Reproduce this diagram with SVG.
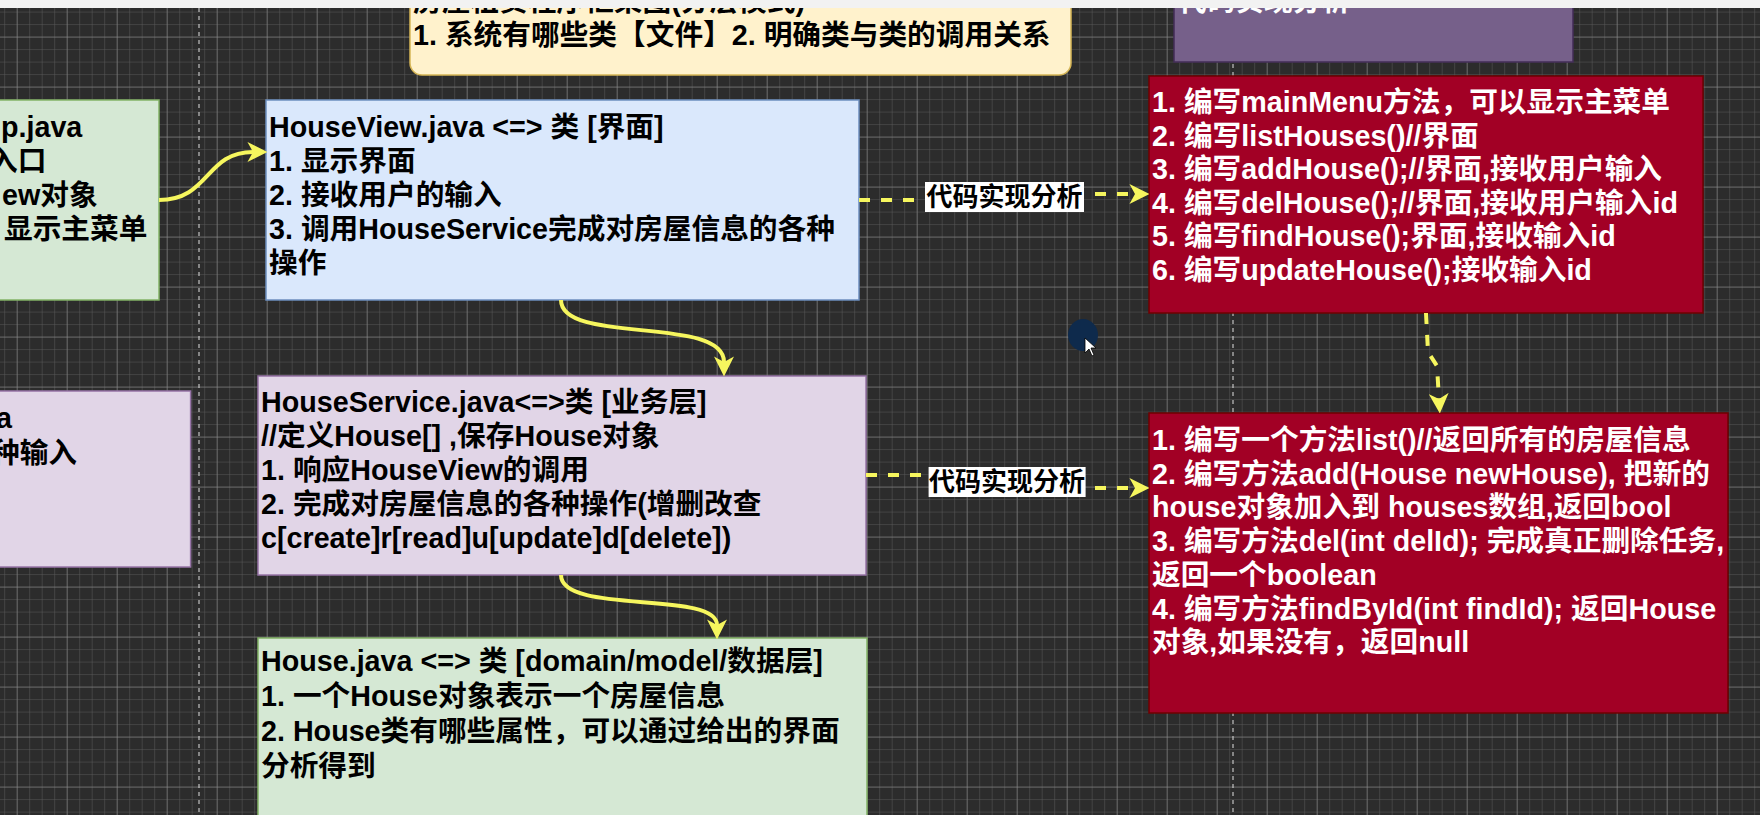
<svg xmlns="http://www.w3.org/2000/svg" width="1760" height="815" viewBox="0 0 1760 815">
<defs>
<pattern id="gmin" x="4.2" y="11.6" width="12.5" height="12.5" patternUnits="userSpaceOnUse">
<path d="M0,0 H12.5 M0,0 V12.5" stroke="#5a5a5a" stroke-width="1" fill="none"/>
</pattern>
<pattern id="gmaj" x="16.7" y="36.6" width="50" height="50" patternUnits="userSpaceOnUse">
<path d="M0,0 H50 M0,0 V50" stroke="#8e8e8e" stroke-width="1" fill="none"/>
</pattern>
<marker id="ah" markerUnits="userSpaceOnUse" markerWidth="20" markerHeight="20" viewBox="0 0 18 18" refX="5" refY="9" orient="auto">
<path d="M0,0 L18,9 L0,18 L5,9 Z" fill="#f6f65e"/>
</marker>
<style>
.t{font-family:'Liberation Sans','Noto Sans CJK SC',sans-serif;font-weight:bold;font-size:28.7px;fill:#000}
.w{fill:#fff}
.lbl{font-size:26px}
.green{fill:#d5e8d4;stroke:#82b366;stroke-width:1.5}
.blue{fill:#dae8fc;stroke:#6c8ebf;stroke-width:1.5}
.purple{fill:#e1d5e7;stroke:#9673a6;stroke-width:1.5}
.red{fill:#a20025;stroke:#6f0000;stroke-width:1.5}
.edge{fill:none;stroke:#f6f65e;stroke-width:4}
.dash{stroke-dasharray:11 11}
.vd{stroke:#e0e0e0;stroke-width:1;stroke-dasharray:4 4}
</style>
</defs>

<rect x="0" y="0" width="1760" height="815" fill="#2c2c2c"/>
<rect x="0" y="0" width="1760" height="815" fill="url(#gmin)"/>
<rect x="0" y="0" width="1760" height="815" fill="url(#gmaj)"/>
<line class="vd" x1="199" y1="0" x2="199" y2="815"/>
<line class="vd" x1="1233" y1="0" x2="1233" y2="815"/>

<g id="title-box">
<rect x="410" y="-30" width="661" height="105" rx="12" fill="#fff2cc" stroke="#d6b656" stroke-width="1.5"/>
<text class="t" x="413" y="11">房屋租赁程序框架图(分层模式)</text>
<text class="t" x="413" y="45">1. 系统有哪些类【文件】2. 明确类与类的调用关系</text>
</g>

<g id="analysis-box">
<rect x="1174" y="-30" width="399" height="92" fill="#76608a" stroke="#432d57" stroke-width="1.5"/>
<text class="t w" x="1178" y="11">代码实现分析</text>
</g>

<g id="app-box">
<rect class="green" x="-10" y="100" width="169" height="200"/>
<text class="t" x="1" y="137">p.java</text>
<text class="t" x="-11" y="171">入口</text>
<text class="t" x="2" y="205">ew对象</text>
<text class="t" x="4" y="239">显示主菜单</text>
</g>

<g id="left-purple-box">
<rect class="purple" x="-10" y="391" width="200.6" height="176"/>
<text class="t" x="-4" y="428">a</text>
<text class="t" x="-9" y="463">种输入</text>
</g>

<g id="houseview-box">
<rect class="blue" x="266" y="100" width="593" height="200"/>
<text class="t" x="269" y="137">HouseView.java &lt;=&gt; 类 [界面]</text>
<text class="t" x="269" y="171">1. 显示界面</text>
<text class="t" x="269" y="205">2. 接收用户的输入</text>
<text class="t" x="269" y="239">3. 调用HouseService完成对房屋信息的各种</text>
<text class="t" x="269" y="273">操作</text>
</g>

<g id="houseservice-box">
<rect class="purple" x="258" y="376" width="608" height="199"/>
<text class="t" x="261" y="412">HouseService.java&lt;=&gt;类 [业务层]</text>
<text class="t" x="261" y="446">//定义House[] ,保存House对象</text>
<text class="t" x="261" y="480">1. 响应HouseView的调用</text>
<text class="t" x="261" y="514">2. 完成对房屋信息的各种操作(增删改查</text>
<text class="t" x="261" y="548">c[create]r[read]u[update]d[delete])</text>
</g>

<g id="house-box">
<rect class="green" x="258" y="638" width="609" height="200"/>
<text class="t" x="261" y="671">House.java &lt;=&gt; 类 [domain/model/数据层]</text>
<text class="t" x="261" y="706">1. 一个House对象表示一个房屋信息</text>
<text class="t" x="261" y="741">2. House类有哪些属性，可以通过给出的界面</text>
<text class="t" x="261" y="776">分析得到</text>
</g>

<g id="view-methods-box">
<rect class="red" x="1149" y="76" width="554" height="237"/>
<text class="t w" x="1152" y="112">1. 编写mainMenu方法，可以显示主菜单</text>
<text class="t w" x="1152" y="145.6">2. 编写listHouses()//界面</text>
<text class="t w" x="1152" y="179.2">3. 编写addHouse();//界面,接收用户输入</text>
<text class="t w" x="1152" y="212.8">4. 编写delHouse();//界面,接收用户输入id</text>
<text class="t w" x="1152" y="246.4">5. 编写findHouse();界面,接收输入id</text>
<text class="t w" x="1152" y="280">6. 编写updateHouse();接收输入id</text>
</g>

<g id="service-methods-box">
<rect class="red" x="1149" y="413" width="579" height="300"/>
<text class="t w" x="1152" y="450">1. 编写一个方法list()//返回所有的房屋信息</text>
<text class="t w" x="1152" y="483.7">2. 编写方法add(House newHouse), 把新的</text>
<text class="t w" x="1152" y="517.4">house对象加入到 houses数组,返回bool</text>
<text class="t w" x="1152" y="551.1">3. 编写方法del(int delId); 完成真正删除任务,</text>
<text class="t w" x="1152" y="584.8">返回一个boolean</text>
<text class="t w" x="1152" y="618.5">4. 编写方法findById(int findId); 返回House</text>
<text class="t w" x="1152" y="652.2">对象,如果没有，返回null</text>
</g>

<g id="connectors">
<path class="edge" d="M159,200 C210,200 205,152 253,152" marker-end="url(#ah)"/>
<path class="edge" d="M561,300 C561,345 724,315 724,362" marker-end="url(#ah)"/>
<path class="edge" d="M561,575 C561,615 717,590 717,625" marker-end="url(#ah)"/>
<path class="edge dash" d="M859,200 H1000 V194 H1135" marker-end="url(#ah)"/>
<path class="edge dash" d="M866,475 H1000 V488 H1135" marker-end="url(#ah)"/>
<path class="edge dash" d="M1426,313 L1428,352 L1437,366 L1439,399" marker-end="url(#ah)"/>
<g id="label-1">
<rect x="925" y="182" width="159" height="30" fill="#fff"/>
<text class="t lbl" x="1004.5" y="206" text-anchor="middle">代码实现分析</text>
</g>
<g id="label-2">
<rect x="928.6" y="467" width="157" height="30" fill="#fff"/>
<text class="t lbl" x="1007" y="491" text-anchor="middle">代码实现分析</text>
</g>
</g>

<g id="cursor">
<ellipse cx="1083" cy="335" rx="15" ry="16" fill="#0e2a4c"/>
<path d="M1085,338 L1085,353 L1089,349 L1092,356 L1094,355 L1091,348 L1096,348 Z" fill="#fff" stroke="#000" stroke-width="0.8"/>
</g>

<rect x="0" y="0" width="1760" height="8" fill="#f2f2f2"/>
</svg>
